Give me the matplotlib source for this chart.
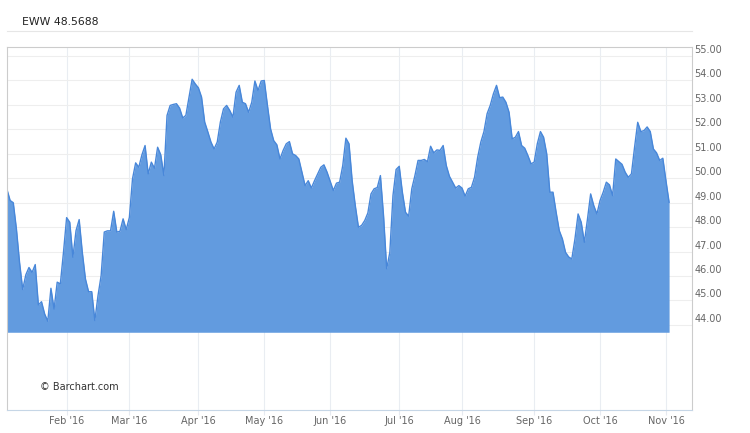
import matplotlib
matplotlib.use("Agg")
import numpy as np
import matplotlib.pyplot as plt
from matplotlib.lines import Line2D
from matplotlib.transforms import ScaledTranslation

# daily closes, trading days Jan 4 2016 .. Nov 2 2016
closes = [
    49.54, 49.09, 49.00, 47.93, 46.56, 45.45, 46.05, 46.35, 46.15, 46.47,
    44.82, 44.95, 44.45, 44.15, 45.50, 44.65, 45.75, 45.68, 46.97, 48.39,
    48.20, 46.77, 47.86, 48.31, 46.97, 45.88, 45.36, 45.36, 44.18, 45.20,
    46.02, 47.80, 47.85, 47.85, 48.65, 47.80, 47.83, 48.34, 47.90, 48.40,
    49.98, 50.63, 50.45, 50.96, 51.34, 50.18, 50.66, 50.41, 51.27, 50.96,
    50.11, 52.57, 52.98, 53.02, 53.05, 52.87, 52.47, 52.57, 53.32, 54.05,
    53.86, 53.70, 53.32, 52.30, 51.90, 51.48, 51.20, 51.48, 52.30, 52.84,
    52.98, 52.77, 52.50, 53.52, 53.80, 53.11, 53.05, 52.70, 53.11, 53.98,
    53.59, 53.98, 54.00, 52.98, 52.02, 51.54, 51.37, 50.79, 51.14, 51.41,
    51.50, 51.00, 50.93, 50.79, 50.25, 49.70, 49.90, 49.60, 49.90, 50.18,
    50.45, 50.55, 50.25, 49.87, 49.50, 49.80, 49.84, 50.52, 51.64, 51.41,
    49.90, 48.88, 48.00, 48.07, 48.27, 48.58, 49.36, 49.57, 49.62, 50.11,
    48.47, 46.30, 46.97, 49.29, 50.36, 50.49, 49.43, 48.61, 48.45, 49.57,
    50.11, 50.73, 50.73, 50.77, 50.68, 51.31, 51.04, 51.16, 51.14, 51.34,
    50.52, 50.08, 49.84, 49.60, 49.70, 49.60, 49.27, 49.57, 49.63, 50.04,
    50.86, 51.48, 51.91, 52.64, 52.98, 53.45, 53.80, 53.30, 53.32, 53.11,
    52.70, 51.61, 51.68, 51.91, 51.34, 51.23, 50.93, 50.59, 50.66, 51.41,
    51.91, 51.68, 51.00, 49.43, 49.43, 48.61, 47.86, 47.52, 46.97, 46.78,
    46.70, 47.52, 48.54, 48.20, 47.38, 48.34, 49.36, 48.88, 48.54, 49.09,
    49.43, 49.84, 49.73, 49.29, 50.79, 50.68, 50.57, 50.25, 50.04, 50.18,
    51.27, 52.29, 51.91, 51.95, 52.10, 51.91, 51.20, 51.04, 50.73, 50.82,
    49.90, 49.02,
]
# trading days in each month (Jan .. Oct) -> first day index of next month
month_days = [19, 20, 22, 21, 21, 22, 20, 23, 21, 21]
month_labels = ["Feb '16", "Mar '16", "Apr '16", "May '16", "Jun '16",
                "Jul '16", "Aug '16", "Sep '16", "Oct '16", "Nov '16"]
price_ticks = np.arange(44, 56)
title = "EWW 48.5688"
base = 43.7

x = np.arange(len(closes))
month_pos = np.cumsum(month_days)

fig = plt.figure(figsize=(7.5, 4.33), dpi=100)
ax = fig.add_axes([7 / 750, 23 / 433, 685 / 750, 363 / 433])

ax.fill_between(x, closes, base, color="#629bdf", lw=0)
ax.plot(x, closes, color="#4887d9", lw=1)

ax.set_xlim(0, 218.3)
ax.set_ylim(40.52, 55.37)

ax.set_xticks(month_pos)
ax.set_xticklabels(month_labels)
ax.set_yticks(price_ticks)
ax.set_yticklabels([f"{v:.2f}" for v in price_ticks])

ax.yaxis.tick_right()
ax.tick_params(axis="y", length=0, pad=1.5, labelsize=7, labelcolor="#666666")
ax.tick_params(axis="x", length=3.5, width=0.8, color="#e6eaf0", pad=1,
               labelsize=7, labelcolor="#666666")
for lab in ax.get_yticklabels():
    lab.set_verticalalignment("bottom")
    lab.set_transform(lab.get_transform() + ScaledTranslation(0, 0.01, fig.dpi_scale_trans))

ax.grid(True, axis="y", color="#eeeeee", lw=0.8)
ax.grid(True, axis="x", color="#e9edf2", lw=0.8)
ax.set_axisbelow(True)

for side in ["left", "top", "right"]:
    ax.spines[side].set_color("#cccccc")
    ax.spines[side].set_linewidth(0.8)
ax.spines["bottom"].set_color("#c6d6e6")
ax.spines["bottom"].set_linewidth(0.8)

ax.text(0.048, 0.063, "\u00a9 Barchart.com", transform=ax.transAxes,
        fontsize=7, color="#333333", va="center", ha="left")

fig.text(22 / 750, 1 - 22 / 433, title, fontsize=7.8, color="#222222",
         va="center", ha="left")
fig.add_artist(Line2D([7 / 750, 692 / 750], [1 - 31 / 433, 1 - 31 / 433],
                      color="#e6e6e6", lw=0.8))

fig.savefig("out.png", dpi=100)
